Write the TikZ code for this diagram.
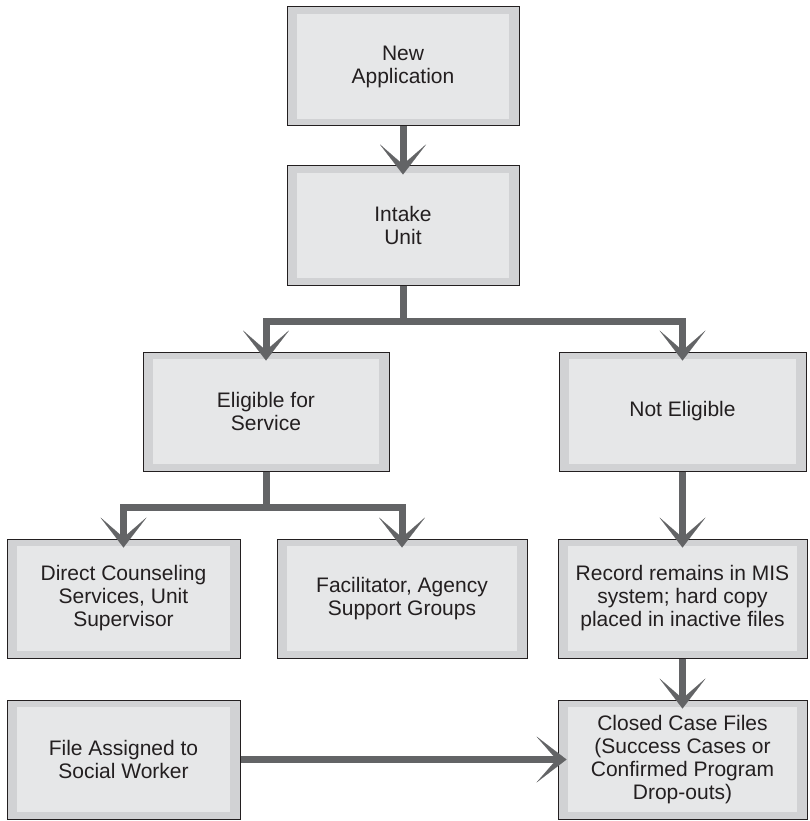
\documentclass[tikz,border=0pt]{standalone}
\usepackage{fontspec}
\setmainfont{Liberation Sans}
\usetikzlibrary{arrows.meta}

\definecolor{bandgray}{HTML}{D1D2D4}
\definecolor{facegray}{HTML}{E6E7E8}
\definecolor{edgegray}{HTML}{231F20}
\definecolor{flowgray}{HTML}{636466}
\definecolor{textgray}{HTML}{231F20}

\tikzset{
  flowbox/.style={
    rectangle, draw=edgegray, line width=1pt, fill=bandgray,
    minimum height=119pt, inner sep=0pt, align=center,
    text=textgray, font=\fontsize{21}{23}\selectfont,
    path picture={
      \fill[facegray]
        ([xshift=10pt,yshift=7pt]path picture bounding box.south west)
        rectangle
        ([xshift=-10pt,yshift=-7pt]path picture bounding box.north east);
    }
  },
  flow/.style={
    draw=flowgray, line width=7pt, line join=miter,
    -{Stealth[length=30pt, width=46pt, inset=20pt, line width=0.1pt]}
  }
}

\begin{document}
\begin{tikzpicture}[x=1pt, y=-1pt]
  \useasboundingbox (0,0) rectangle (809,821);

  % boxes
  \node[flowbox, minimum width=232pt] (app)    at (403,66.5)   {New\\Application};
  \node[flowbox, minimum width=232pt] (intake) at (403,225.5)  {Intake\\Unit};
  \node[flowbox, minimum width=246pt] (elig)   at (266,411.5)  {Eligible for\\Service};
  \node[flowbox, minimum width=247pt] (noelig) at (682.5,411.5){Not Eligible};
  \node[flowbox, minimum width=233pt] (direct) at (123.5,598.5){Direct Counseling\\Services, Unit\\Supervisor};
  \node[flowbox, minimum width=250pt] (facil)  at (402,598.5)  {Facilitator, Agency\\Support Groups};
  \node[flowbox, minimum width=249pt] (record) at (682.5,598.5){Record remains in MIS\\system; hard copy\\placed in inactive files};
  \node[flowbox, minimum width=233pt] (file)   at (123.5,759.5){File Assigned to\\Social Worker};
  \node[flowbox, minimum width=249pt] (closed) at (682.5,759.5){Closed Case Files\\(Success Cases or\\Confirmed Program\\Drop-outs)};

  % connectors
  \draw[flow] (app.south) -- ([yshift=-9pt]intake.north);
  \draw[flow] (intake.south) -- ++(0,36) -| ([yshift=-9pt]elig.north);
  \draw[flow] (intake.south) -- ++(0,36) -| ([yshift=-9pt]noelig.north);
  \draw[flow] (elig.south) -- ++(0,36) -| ([yshift=-9pt]direct.north);
  \draw[flow] (elig.south) -- ++(0,36) -| ([yshift=-9pt]facil.north);
  \draw[flow] (noelig.south) -- ([yshift=-9pt]record.north);
  \draw[flow] (record.south) -- ([yshift=-9pt]closed.north);
  \draw[flow] (file.east) -- ([xshift=9pt]closed.west);
\end{tikzpicture}
\end{document}
